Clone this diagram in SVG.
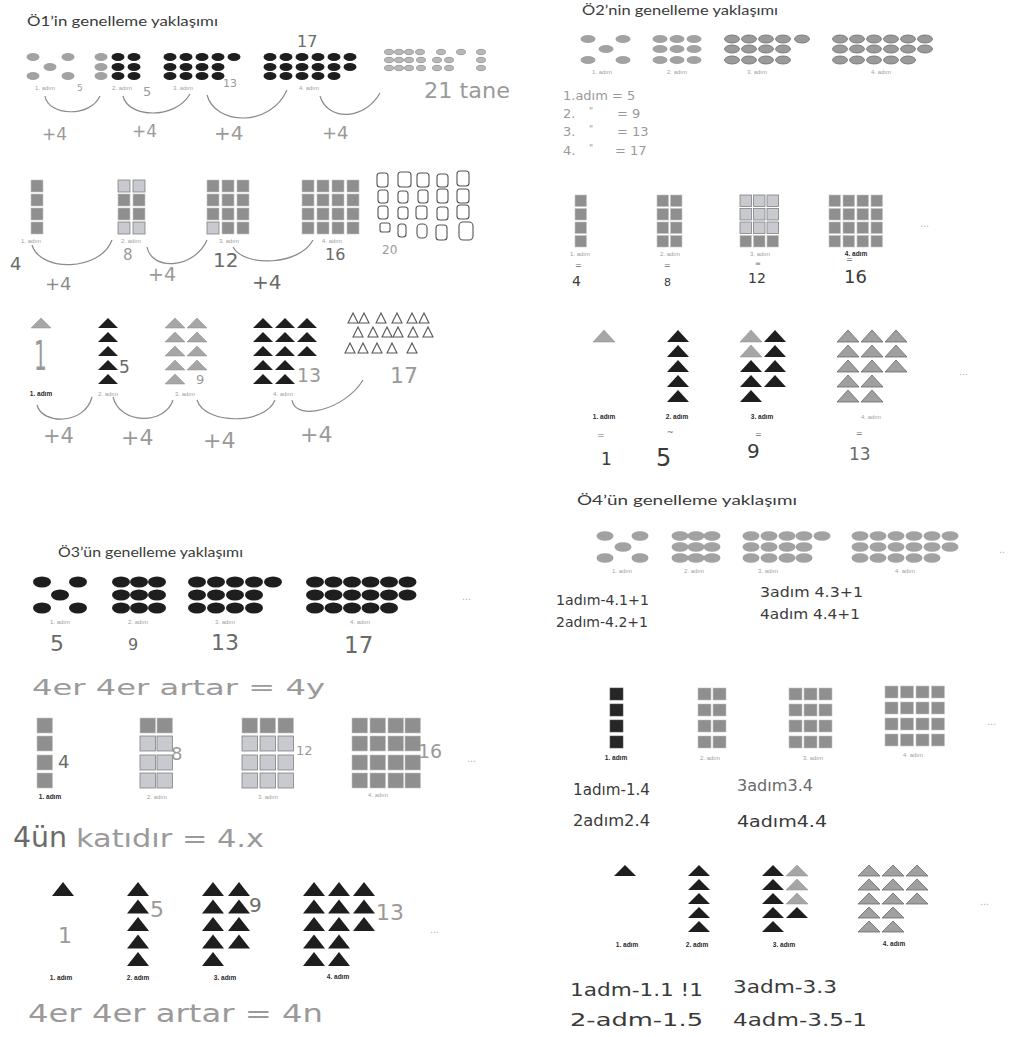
<svg xmlns="http://www.w3.org/2000/svg" xmlns:xlink="http://www.w3.org/1999/xlink" width="1011" height="1037" viewBox="0 0 1011 1037">
<style>
.title{font-family:"Lato","Open Sans",sans-serif;font-size:14px;fill:#3a3a3a}
.lbl{font-family:"Liberation Sans",Arial,sans-serif;font-size:6px;fill:#a0a0a0;text-anchor:middle}
.lblb{font-family:"Liberation Sans",Arial,sans-serif;font-size:6.5px;font-weight:bold;fill:#2a2a2a;text-anchor:middle}
.hw{font-family:"DejaVu Sans",sans-serif;fill:#9a9a9a}
.hwd{font-family:"DejaVu Sans",sans-serif;fill:#3a3a3a}
.hwm{font-family:"DejaVu Sans",sans-serif;fill:#6a6a6a}
.dots{font-family:"Liberation Sans",sans-serif;font-size:11px;fill:#b0b0b0}
.g{fill:#a2a2a2}
.go{fill:#9a9a9a;stroke:#6e6e6e;stroke-width:0.8}
.k{fill:#1e1e1e}
.sq{fill:#8f8f8f;stroke:#c4c4c4;stroke-width:0.6}
.sql{fill:#c8cad0;stroke:#808080;stroke-width:0.8}
.sqk{fill:#262626;stroke:#555;stroke-width:0.6}
.tg{fill:#a6a6a6;stroke:#8a8a8a;stroke-width:0.5}
.tgo{fill:#a0a0a0;stroke:#6a6a6a;stroke-width:0.8}
.arc{fill:none;stroke:#8a8a8a;stroke-width:1.2}
.ol{fill:none;stroke:#555;stroke-width:1.1}
.ole{fill:#b8b8b8;stroke:#888;stroke-width:0.7}
</style>
<defs>
<ellipse id="e1" cx="0" cy="0" rx="6.5" ry="4"/>
<ellipse id="e2" cx="0" cy="0" rx="7.5" ry="4"/>
<ellipse id="e4" cx="0" cy="0" rx="8.5" ry="4.8"/>
<ellipse id="e3" cx="0" cy="0" rx="9" ry="5.5"/>
<ellipse id="eh" cx="0" cy="0" rx="4.5" ry="2.7"/>
<rect id="s1" width="12" height="12"/>
<rect id="s2" width="11.5" height="11.5"/>
<rect id="s4" width="13" height="12"/>
<rect id="s3" width="15.5" height="15"/>
<polygon id="t1" points="0,10 10,0 20,10"/>
<polygon id="t2" points="0,12 11,0 22,12"/>
<polygon id="t4" points="0,11 11,0 22,11"/>
<polygon id="t3" points="0,14 11,0 22,14"/>
<polygon id="th" points="0,10 5,0 10,10"/>
</defs>
<rect width="1011" height="1037" fill="#ffffff"/>

<!-- ===== Ö1 ===== -->
<g id="o1-title"><text class="title" x="27" y="26" textLength="191" lengthAdjust="spacingAndGlyphs">Ö1’in genelleme yaklaşımı</text></g>

<g id="o1-row1">
<g class="g"><use href="#e1" x="33" y="57"/><use href="#e1" x="68" y="57"/><use href="#e1" x="50" y="67"/><use href="#e1" x="33" y="76"/><use href="#e1" x="68" y="76"/>
<use href="#e1" x="101" y="57"/><use href="#e1" x="101" y="67"/><use href="#e1" x="101" y="76"/></g>
<g class="k"><use href="#e1" x="118" y="57"/><use href="#e1" x="134" y="57"/><use href="#e1" x="118" y="67"/><use href="#e1" x="134" y="67"/><use href="#e1" x="118" y="76"/><use href="#e1" x="134" y="76"/>
<use href="#e1" x="170" y="57"/><use href="#e1" x="186" y="57"/><use href="#e1" x="202" y="57"/><use href="#e1" x="218" y="57"/><use href="#e1" x="234" y="57"/>
<use href="#e1" x="170" y="67"/><use href="#e1" x="186" y="67"/><use href="#e1" x="202" y="67"/><use href="#e1" x="218" y="67"/>
<use href="#e1" x="170" y="76"/><use href="#e1" x="186" y="76"/><use href="#e1" x="202" y="76"/><use href="#e1" x="218" y="76"/>
<use href="#e1" x="270" y="57"/><use href="#e1" x="286" y="57"/><use href="#e1" x="302" y="57"/><use href="#e1" x="318" y="57"/><use href="#e1" x="334" y="57"/><use href="#e1" x="350" y="57"/>
<use href="#e1" x="270" y="67"/><use href="#e1" x="286" y="67"/><use href="#e1" x="302" y="67"/><use href="#e1" x="318" y="67"/><use href="#e1" x="334" y="67"/><use href="#e1" x="350" y="67"/>
<use href="#e1" x="270" y="76"/><use href="#e1" x="286" y="76"/><use href="#e1" x="302" y="76"/><use href="#e1" x="318" y="76"/><use href="#e1" x="334" y="76"/></g>
<g class="ole"><use href="#eh" x="389" y="52"/><use href="#eh" x="399" y="52"/><use href="#eh" x="409" y="52"/><use href="#eh" x="420" y="52"/><use href="#eh" x="441" y="52"/><use href="#eh" x="461" y="52"/><use href="#eh" x="481" y="52"/>
<use href="#eh" x="389" y="60"/><use href="#eh" x="399" y="60"/><use href="#eh" x="409" y="60"/><use href="#eh" x="421" y="60"/><use href="#eh" x="437" y="60"/><use href="#eh" x="449" y="60"/><use href="#eh" x="481" y="60"/>
<use href="#eh" x="389" y="68"/><use href="#eh" x="399" y="68"/><use href="#eh" x="409" y="68"/><use href="#eh" x="421" y="68"/><use href="#eh" x="437" y="68"/><use href="#eh" x="449" y="68"/><use href="#eh" x="481" y="68"/></g>
<text class="lbl" x="45" y="90">1. adım</text><text class="lbl" x="122" y="90">2. adım</text><text class="lbl" x="183" y="90">3. adım</text><text class="lbl" x="309" y="90">4. adım</text>
<text class="hw" x="77" y="91" font-size="9">5</text>
<text class="hw" x="143" y="96" font-size="13">5</text>
<text class="hw" x="223" y="87" font-size="11">13</text>
<text class="hwm" x="297" y="47" font-size="16">17</text>
<text class="hw" x="424" y="98" font-size="22" textLength="86" lengthAdjust="spacingAndGlyphs">21 tane</text>
<text class="hw" x="42" y="140" font-size="17">+4</text>
<text class="hw" x="132" y="137" font-size="17">+4</text>
<text class="hw" x="214" y="140" font-size="20">+4</text>
<text class="hw" x="322" y="139" font-size="18">+4</text>
</g>

<g id="o1-row2">
<g class="sq"><use href="#s1" x="31" y="180"/><use href="#s1" x="31" y="194"/><use href="#s1" x="31" y="208"/><use href="#s1" x="31" y="222"/>
<use href="#s1" x="118" y="194"/><use href="#s1" x="133" y="194"/><use href="#s1" x="118" y="208"/><use href="#s1" x="133" y="208"/>
<use href="#s1" x="207" y="180"/><use href="#s1" x="222" y="180"/><use href="#s1" x="237" y="180"/><use href="#s1" x="207" y="194"/><use href="#s1" x="222" y="194"/><use href="#s1" x="237" y="194"/><use href="#s1" x="207" y="208"/><use href="#s1" x="222" y="208"/><use href="#s1" x="237" y="208"/><use href="#s1" x="222" y="222"/><use href="#s1" x="237" y="222"/>
<use href="#s1" x="302" y="180"/><use href="#s1" x="317" y="180"/><use href="#s1" x="332" y="180"/><use href="#s1" x="347" y="180"/>
<use href="#s1" x="302" y="194"/><use href="#s1" x="317" y="194"/><use href="#s1" x="332" y="194"/><use href="#s1" x="347" y="194"/>
<use href="#s1" x="302" y="208"/><use href="#s1" x="317" y="208"/><use href="#s1" x="332" y="208"/><use href="#s1" x="347" y="208"/>
<use href="#s1" x="302" y="222"/><use href="#s1" x="317" y="222"/><use href="#s1" x="332" y="222"/><use href="#s1" x="347" y="222"/></g>
<g class="sql"><use href="#s1" x="118" y="180"/><use href="#s1" x="133" y="180"/><use href="#s1" x="118" y="222"/><use href="#s1" x="133" y="222"/><use href="#s1" x="207" y="222"/></g>
<g class="ol"><rect x="377" y="173" width="11" height="14" rx="3"/><rect x="398" y="172" width="13" height="15" rx="3"/><rect x="417" y="173" width="12" height="14" rx="3"/><rect x="437" y="174" width="11" height="13" rx="3"/><rect x="457" y="171" width="12" height="15" rx="3"/>
<rect x="378" y="190" width="10" height="13" rx="3"/><rect x="398" y="191" width="10" height="12" rx="3"/><rect x="418" y="190" width="10" height="13" rx="3"/><rect x="437" y="189" width="11" height="14" rx="3"/><rect x="457" y="189" width="12" height="14" rx="3"/>
<rect x="378" y="206" width="10" height="13" rx="3"/><rect x="398" y="207" width="10" height="12" rx="3"/><rect x="416" y="206" width="11" height="13" rx="3"/><rect x="437" y="207" width="11" height="13" rx="3"/><rect x="457" y="205" width="12" height="14" rx="3"/>
<rect x="380" y="223" width="10" height="9" rx="2"/><rect x="398" y="224" width="8" height="13" rx="3"/><rect x="417" y="224" width="10" height="14" rx="4"/><rect x="436" y="225" width="11" height="15" rx="3"/><rect x="459" y="222" width="14" height="18" rx="4"/></g>
<text class="lbl" x="31" y="243">1. adım</text><text class="lbl" x="131" y="243">2. adım</text><text class="lbl" x="229" y="243">3. adım</text><text class="lbl" x="332" y="243">4. adım</text>
<text class="hwm" x="10" y="270" font-size="18">4</text>
<text class="hw" x="123" y="260" font-size="15">8</text>
<text class="hwm" x="213" y="267" font-size="20">12</text>
<text class="hwm" x="325" y="260" font-size="16">16</text>
<text class="hw" x="382" y="254" font-size="12">20</text>
<text class="hwd" x="45" y="290" font-size="18" fill-opacity="0.6">+4</text>
<text class="hw" x="148" y="281" font-size="19">+4</text>
<text class="hwm" x="252" y="289" font-size="20">+4</text>
</g>

<g id="o1-row3">
<g class="tg"><use href="#t1" x="31" y="318"/>
<use href="#t1" x="165" y="318"/><use href="#t1" x="165" y="332"/><use href="#t1" x="165" y="346"/><use href="#t1" x="165" y="360"/><use href="#t1" x="165" y="374"/>
<use href="#t1" x="187" y="318"/><use href="#t1" x="187" y="332"/><use href="#t1" x="187" y="346"/><use href="#t1" x="187" y="360"/></g>
<g class="k"><use href="#t1" x="98" y="318"/><use href="#t1" x="98" y="332"/><use href="#t1" x="98" y="346"/><use href="#t1" x="98" y="360"/><use href="#t1" x="98" y="374"/>
<use href="#t1" x="253" y="318"/><use href="#t1" x="275" y="318"/><use href="#t1" x="297" y="318"/>
<use href="#t1" x="253" y="332"/><use href="#t1" x="275" y="332"/><use href="#t1" x="297" y="332"/>
<use href="#t1" x="253" y="346"/><use href="#t1" x="275" y="346"/><use href="#t1" x="297" y="346"/>
<use href="#t1" x="253" y="360"/><use href="#t1" x="275" y="360"/>
<use href="#t1" x="253" y="374"/><use href="#t1" x="275" y="374"/></g>
<g class="ol"><use href="#th" x="348" y="313"/><use href="#th" x="359" y="313"/><use href="#th" x="376" y="313"/><use href="#th" x="392" y="313"/><use href="#th" x="407" y="313"/><use href="#th" x="419" y="313"/>
<use href="#th" x="353" y="327"/><use href="#th" x="368" y="327"/><use href="#th" x="382" y="327"/><use href="#th" x="393" y="327"/><use href="#th" x="408" y="327"/><use href="#th" x="423" y="327"/>
<use href="#th" x="345" y="343"/><use href="#th" x="358" y="343"/><use href="#th" x="372" y="343"/><use href="#th" x="387" y="343"/><use href="#th" x="407" y="343"/></g>
<text class="lblb" x="41" y="396">1. adım</text><text class="lbl" x="108" y="396">2. adım</text><text class="lbl" x="185" y="396">3. adım</text><text class="lbl" x="283" y="396">4. adım</text>
<text class="hw" x="34" y="370" font-size="40" transform="translate(34 0) scale(0.5 1) translate(-34 0)">1</text>
<text class="hwm" x="119" y="373" font-size="17">5</text>
<text class="hw" x="196" y="384" font-size="13">9</text>
<text class="hw" x="297" y="382" font-size="19">13</text>
<text class="hw" x="390" y="383" font-size="22">17</text>
<text class="hw" x="43" y="443" font-size="21">+4</text>
<text class="hw" x="121" y="445" font-size="22">+4</text>
<text class="hw" x="203" y="448" font-size="22">+4</text>
<text class="hw" x="300" y="442" font-size="22">+4</text>
</g>

<!-- ===== Ö2 ===== -->
<g id="o2-title"><text class="title" x="582" y="15" textLength="196" lengthAdjust="spacingAndGlyphs">Ö2’nin genelleme yaklaşımı</text></g>

<g id="o2-row1">
<g class="g"><use href="#e2" x="588" y="39"/><use href="#e2" x="623" y="39"/><use href="#e2" x="606" y="49"/><use href="#e2" x="588" y="60"/><use href="#e2" x="623" y="60"/>
<use href="#e2" x="660" y="39"/><use href="#e2" x="677" y="39"/><use href="#e2" x="694" y="39"/><use href="#e2" x="660" y="49"/><use href="#e2" x="677" y="49"/><use href="#e2" x="694" y="49"/><use href="#e2" x="660" y="60"/><use href="#e2" x="677" y="60"/><use href="#e2" x="694" y="60"/></g>
<g class="go"><use href="#e2" x="732" y="39"/><use href="#e2" x="749" y="39"/><use href="#e2" x="766" y="39"/><use href="#e2" x="783" y="39"/><use href="#e2" x="802" y="39"/>
<use href="#e2" x="732" y="49"/><use href="#e2" x="749" y="49"/><use href="#e2" x="766" y="49"/><use href="#e2" x="783" y="49"/>
<use href="#e2" x="732" y="60"/><use href="#e2" x="749" y="60"/><use href="#e2" x="766" y="60"/><use href="#e2" x="783" y="60"/>
<use href="#e2" x="840" y="39"/><use href="#e2" x="857" y="39"/><use href="#e2" x="874" y="39"/><use href="#e2" x="891" y="39"/><use href="#e2" x="908" y="39"/><use href="#e2" x="925" y="39"/>
<use href="#e2" x="840" y="49"/><use href="#e2" x="857" y="49"/><use href="#e2" x="874" y="49"/><use href="#e2" x="891" y="49"/><use href="#e2" x="908" y="49"/><use href="#e2" x="925" y="49"/>
<use href="#e2" x="840" y="60"/><use href="#e2" x="857" y="60"/><use href="#e2" x="874" y="60"/><use href="#e2" x="891" y="60"/><use href="#e2" x="908" y="60"/></g>
<text class="lbl" x="602" y="74">1. adım</text><text class="lbl" x="677" y="74">2. adım</text><text class="lbl" x="757" y="74">3. adım</text><text class="lbl" x="881" y="74">4. adım</text>
<g class="hw" font-size="13"><text x="563" y="100">1.adım = 5</text>
<text x="563" y="118">2.</text><text x="589" y="114" font-size="9">"</text><text x="617" y="118">= 9</text>
<text x="563" y="136">3.</text><text x="589" y="132" font-size="9">"</text><text x="617" y="136">= 13</text>
<text x="563" y="155">4.</text><text x="589" y="151" font-size="9">"</text><text x="615" y="155">= 17</text></g>
</g>

<g id="o2-row2">
<g class="sq"><use href="#s2" x="575" y="195"/><use href="#s2" x="575" y="208.5"/><use href="#s2" x="575" y="222"/><use href="#s2" x="575" y="235.5"/>
<use href="#s2" x="657" y="195"/><use href="#s2" x="670.5" y="195"/><use href="#s2" x="657" y="208.5"/><use href="#s2" x="670.5" y="208.5"/><use href="#s2" x="657" y="222"/><use href="#s2" x="670.5" y="222"/><use href="#s2" x="657" y="235.5"/><use href="#s2" x="670.5" y="235.5"/>
<use href="#s2" x="740" y="235.5"/><use href="#s2" x="753.5" y="235.5"/><use href="#s2" x="767" y="235.5"/>
<use href="#s2" x="829" y="195"/><use href="#s2" x="843" y="195"/><use href="#s2" x="857" y="195"/><use href="#s2" x="871" y="195"/>
<use href="#s2" x="829" y="208.5"/><use href="#s2" x="843" y="208.5"/><use href="#s2" x="857" y="208.5"/><use href="#s2" x="871" y="208.5"/>
<use href="#s2" x="829" y="222"/><use href="#s2" x="843" y="222"/><use href="#s2" x="857" y="222"/><use href="#s2" x="871" y="222"/>
<use href="#s2" x="829" y="235.5"/><use href="#s2" x="843" y="235.5"/><use href="#s2" x="857" y="235.5"/><use href="#s2" x="871" y="235.5"/></g>
<g class="sql"><use href="#s2" x="740" y="195"/><use href="#s2" x="753.5" y="195"/><use href="#s2" x="767" y="195"/><use href="#s2" x="740" y="208.5"/><use href="#s2" x="753.5" y="208.5"/><use href="#s2" x="767" y="208.5"/><use href="#s2" x="740" y="222"/><use href="#s2" x="753.5" y="222"/><use href="#s2" x="767" y="222"/></g>
<text class="lbl" x="580" y="256">1. adım</text><text class="lbl" x="670" y="256">2. adım</text><text class="lbl" x="760" y="256">3. adım</text><text class="lblb" x="856" y="256">4. adım</text>
<text class="dots" x="920" y="227">...</text>
<text class="hwm" x="575" y="268" font-size="8">=</text><text class="hwd" x="572" y="286" font-size="14">4</text>
<text class="hwm" x="664" y="268" font-size="8">=</text><text class="hwd" x="664" y="286" font-size="11">8</text>
<text class="hwm" x="755" y="266" font-size="7">=</text><text class="hwd" x="748" y="283" font-size="14">12</text>
<text class="hwm" x="846" y="262" font-size="8">=</text><text class="hwd" x="844" y="283" font-size="18">16</text>
</g>

<g id="o2-row3">
<g class="tg"><use href="#t2" x="593" y="330"/><use href="#t2" x="740" y="330"/><use href="#t2" x="740" y="345"/></g>
<g class="k"><use href="#t2" x="667" y="330"/><use href="#t2" x="667" y="345"/><use href="#t2" x="667" y="360"/><use href="#t2" x="667" y="375"/><use href="#t2" x="667" y="390"/>
<use href="#t2" x="740" y="360"/><use href="#t2" x="740" y="375"/><use href="#t2" x="740" y="390"/>
<use href="#t2" x="764" y="330"/><use href="#t2" x="764" y="345"/><use href="#t2" x="764" y="360"/><use href="#t2" x="764" y="375"/></g>
<g class="tgo"><use href="#t2" x="837" y="330"/><use href="#t2" x="861" y="330"/><use href="#t2" x="885" y="330"/>
<use href="#t2" x="837" y="345"/><use href="#t2" x="861" y="345"/><use href="#t2" x="885" y="345"/>
<use href="#t2" x="837" y="360"/><use href="#t2" x="861" y="360"/><use href="#t2" x="885" y="360"/>
<use href="#t2" x="837" y="375"/><use href="#t2" x="861" y="375"/>
<use href="#t2" x="837" y="390"/><use href="#t2" x="861" y="390"/></g>
<text class="lblb" x="604" y="419">1. adım</text><text class="lblb" x="677" y="419">2. adım</text><text class="lblb" x="762" y="419">3. adım</text><text class="lbl" x="871" y="419" fill="#777">4. adım</text>
<text class="dots" x="959" y="375">...</text>
<text class="hwm" x="597" y="438" font-size="9">=</text><text class="hwd" x="601" y="465" font-size="17">1</text>
<text class="hwm" x="667" y="435" font-size="8">~</text><text class="hwd" x="656" y="466" font-size="24">5</text>
<text class="hwm" x="755" y="437" font-size="8">=</text><text class="hwd" x="747" y="458" font-size="20">9</text>
<text class="hwm" x="856" y="436" font-size="8">=</text><text class="hwm" x="849" y="460" font-size="17">13</text>
</g>

<!-- ===== Ö4 ===== -->
<g id="o4-title"><text class="title" x="577" y="505" textLength="220" lengthAdjust="spacingAndGlyphs">Ö4’ün genelleme yaklaşımı</text></g>

<g id="o4-row1">
<g class="g"><use href="#e4" x="605" y="536"/><use href="#e4" x="640" y="536"/><use href="#e4" x="623" y="547"/><use href="#e4" x="605" y="558"/><use href="#e4" x="640" y="558"/>
<use href="#e4" x="680" y="536"/><use href="#e4" x="696" y="536"/><use href="#e4" x="712" y="536"/><use href="#e4" x="680" y="547"/><use href="#e4" x="696" y="547"/><use href="#e4" x="712" y="547"/><use href="#e4" x="680" y="558"/><use href="#e4" x="696" y="558"/><use href="#e4" x="712" y="558"/>
<use href="#e4" x="751" y="536"/><use href="#e4" x="769" y="536"/><use href="#e4" x="787" y="536"/><use href="#e4" x="804" y="536"/><use href="#e4" x="822" y="536"/>
<use href="#e4" x="751" y="547"/><use href="#e4" x="769" y="547"/><use href="#e4" x="787" y="547"/><use href="#e4" x="804" y="547"/>
<use href="#e4" x="751" y="558"/><use href="#e4" x="769" y="558"/><use href="#e4" x="787" y="558"/><use href="#e4" x="804" y="558"/>
<use href="#e4" x="860" y="536"/><use href="#e4" x="878" y="536"/><use href="#e4" x="896" y="536"/><use href="#e4" x="914" y="536"/><use href="#e4" x="932" y="536"/><use href="#e4" x="950" y="536"/>
<use href="#e4" x="860" y="547"/><use href="#e4" x="878" y="547"/><use href="#e4" x="896" y="547"/><use href="#e4" x="914" y="547"/><use href="#e4" x="932" y="547"/><use href="#e4" x="950" y="547"/>
<use href="#e4" x="860" y="558"/><use href="#e4" x="878" y="558"/><use href="#e4" x="896" y="558"/><use href="#e4" x="914" y="558"/><use href="#e4" x="932" y="558"/></g>
<text class="lbl" x="622" y="573">1. adım</text><text class="lbl" x="694" y="573" fill="#777">2. adım</text><text class="lbl" x="768" y="573" fill="#888">3. adım</text><text class="lbl" x="905" y="573" fill="#888">4. adım</text>
<text class="dots" x="999" y="553">..</text>
<g class="hwd" font-size="14"><text x="556" y="605" textLength="93" lengthAdjust="spacingAndGlyphs">1adım-4.1+1</text>
<text x="556" y="627" textLength="92" lengthAdjust="spacingAndGlyphs">2adım-4.2+1</text>
<text x="760" y="597" textLength="103" lengthAdjust="spacingAndGlyphs">3adım 4.3+1</text>
<text x="760" y="619" textLength="100" lengthAdjust="spacingAndGlyphs">4adım 4.4+1</text></g>
</g>

<g id="o4-row2">
<g class="sqk"><use href="#s4" x="610" y="688"/><use href="#s4" x="610" y="704"/><use href="#s4" x="610" y="720"/><use href="#s4" x="610" y="736"/></g>
<g class="sq"><use href="#s4" x="698" y="688"/><use href="#s4" x="713" y="688"/><use href="#s4" x="698" y="704"/><use href="#s4" x="713" y="704"/><use href="#s4" x="698" y="720"/><use href="#s4" x="713" y="720"/><use href="#s4" x="698" y="736"/><use href="#s4" x="713" y="736"/>
<use href="#s4" x="789" y="688"/><use href="#s4" x="804" y="688"/><use href="#s4" x="819" y="688"/><use href="#s4" x="789" y="704"/><use href="#s4" x="804" y="704"/><use href="#s4" x="819" y="704"/><use href="#s4" x="789" y="720"/><use href="#s4" x="804" y="720"/><use href="#s4" x="819" y="720"/><use href="#s4" x="789" y="736"/><use href="#s4" x="804" y="736"/><use href="#s4" x="819" y="736"/>
<use href="#s4" x="885" y="686"/><use href="#s4" x="900.5" y="686"/><use href="#s4" x="916" y="686"/><use href="#s4" x="931.5" y="686"/>
<use href="#s4" x="885" y="702"/><use href="#s4" x="900.5" y="702"/><use href="#s4" x="916" y="702"/><use href="#s4" x="931.5" y="702"/>
<use href="#s4" x="885" y="718"/><use href="#s4" x="900.5" y="718"/><use href="#s4" x="916" y="718"/><use href="#s4" x="931.5" y="718"/>
<use href="#s4" x="885" y="734"/><use href="#s4" x="900.5" y="734"/><use href="#s4" x="916" y="734"/><use href="#s4" x="931.5" y="734"/></g>
<text class="lblb" x="616" y="760">1. adım</text><text class="lbl" x="710" y="760">2. adım</text><text class="lbl" x="813" y="760">3. adım</text><text class="lbl" x="913" y="757">4. adım</text>
<text class="dots" x="987" y="725">...</text>
<g font-size="16"><text class="hwd" x="573" y="795" textLength="77" lengthAdjust="spacingAndGlyphs">1adım-1.4</text>
<text class="hwd" x="573" y="826" textLength="77" lengthAdjust="spacingAndGlyphs">2adım2.4</text>
<text class="hwm" x="737" y="791" textLength="76" lengthAdjust="spacingAndGlyphs">3adım3.4</text>
<text class="hwd" x="737" y="827" textLength="90" lengthAdjust="spacingAndGlyphs">4adım4.4</text></g>
</g>

<g id="o4-row3">
<g class="k"><use href="#t4" x="614" y="865"/>
<use href="#t4" x="688" y="865"/><use href="#t4" x="688" y="879"/><use href="#t4" x="688" y="893"/><use href="#t4" x="688" y="907"/><use href="#t4" x="688" y="921"/>
<use href="#t4" x="762" y="865"/><use href="#t4" x="762" y="879"/><use href="#t4" x="762" y="893"/><use href="#t4" x="762" y="907"/><use href="#t4" x="762" y="921"/>
<use href="#t4" x="786" y="907"/></g>
<g class="tg"><use href="#t4" x="786" y="865"/><use href="#t4" x="786" y="879"/><use href="#t4" x="786" y="893"/></g>
<g class="tgo"><use href="#t4" x="858" y="865"/><use href="#t4" x="882" y="865"/><use href="#t4" x="906" y="865"/>
<use href="#t4" x="858" y="879"/><use href="#t4" x="882" y="879"/><use href="#t4" x="906" y="879"/>
<use href="#t4" x="858" y="893"/><use href="#t4" x="882" y="893"/><use href="#t4" x="906" y="893"/>
<use href="#t4" x="858" y="907"/><use href="#t4" x="882" y="907"/>
<use href="#t4" x="858" y="921"/><use href="#t4" x="882" y="921"/></g>
<text class="lblb" x="627" y="947">1. adım</text><text class="lblb" x="697" y="947">2. adım</text><text class="lblb" x="784" y="947">3. adım</text><text class="lblb" x="894" y="946">4. adım</text>
<text class="dots" x="980" y="905">...</text>
<g class="hwd" font-size="17"><text x="570" y="996" textLength="133" lengthAdjust="spacingAndGlyphs">1adm-1.1 !1</text>
<text x="570" y="1026" textLength="133" lengthAdjust="spacingAndGlyphs">2-adm-1.5</text>
<text x="733" y="993" textLength="104" lengthAdjust="spacingAndGlyphs">3adm-3.3</text>
<text x="733" y="1026" textLength="134" lengthAdjust="spacingAndGlyphs">4adm-3.5-1</text></g>
</g>

<!-- ===== Ö3 ===== -->
<g id="o3-title"><text class="title" x="58" y="557" font-size="13" textLength="185" lengthAdjust="spacingAndGlyphs">Ö3’ün genelleme yaklaşımı</text></g>

<g id="o3-row1">
<g class="k"><use href="#e3" x="42" y="582"/><use href="#e3" x="78" y="582"/><use href="#e3" x="60" y="595"/><use href="#e3" x="42" y="608"/><use href="#e3" x="78" y="608"/>
<use href="#e3" x="121" y="582"/><use href="#e3" x="139" y="582"/><use href="#e3" x="157" y="582"/><use href="#e3" x="121" y="595"/><use href="#e3" x="139" y="595"/><use href="#e3" x="157" y="595"/><use href="#e3" x="121" y="608"/><use href="#e3" x="139" y="608"/><use href="#e3" x="157" y="608"/>
<use href="#e3" x="197" y="582"/><use href="#e3" x="216" y="582"/><use href="#e3" x="235" y="582"/><use href="#e3" x="254" y="582"/><use href="#e3" x="273" y="582"/>
<use href="#e3" x="197" y="595"/><use href="#e3" x="216" y="595"/><use href="#e3" x="235" y="595"/><use href="#e3" x="254" y="595"/>
<use href="#e3" x="197" y="608"/><use href="#e3" x="216" y="608"/><use href="#e3" x="235" y="608"/><use href="#e3" x="254" y="608"/>
<use href="#e3" x="315" y="582"/><use href="#e3" x="333.5" y="582"/><use href="#e3" x="352" y="582"/><use href="#e3" x="370.5" y="582"/><use href="#e3" x="389" y="582"/><use href="#e3" x="407.5" y="582"/>
<use href="#e3" x="315" y="595"/><use href="#e3" x="333.5" y="595"/><use href="#e3" x="352" y="595"/><use href="#e3" x="370.5" y="595"/><use href="#e3" x="389" y="595"/><use href="#e3" x="407.5" y="595"/>
<use href="#e3" x="315" y="608"/><use href="#e3" x="333.5" y="608"/><use href="#e3" x="352" y="608"/><use href="#e3" x="370.5" y="608"/><use href="#e3" x="389" y="608"/></g>
<text class="lbl" x="60" y="624" fill="#777">1. adım</text><text class="lbl" x="138" y="624" fill="#777">2. adım</text><text class="lbl" x="225" y="624" fill="#777">3. adım</text><text class="lbl" x="360" y="624" fill="#777">4. adım</text>
<text class="dots" x="462" y="600">...</text>
<text class="hwm" x="50" y="651" font-size="22">5</text>
<text class="hwm" x="128" y="650" font-size="16">9</text>
<text class="hwm" x="211" y="650" font-size="22">13</text>
<text class="hwm" x="344" y="653" font-size="23">17</text>
<text class="hw" x="32" y="695" font-size="22" textLength="293" lengthAdjust="spacingAndGlyphs">4er 4er artar = 4y</text>
</g>

<g id="o3-row2">
<g class="sq"><use href="#s3" x="37" y="718"/><use href="#s3" x="37" y="736"/><use href="#s3" x="37" y="755"/><use href="#s3" x="37" y="773"/>
<use href="#s3" x="140" y="718"/><use href="#s3" x="157" y="718"/>
<use href="#s3" x="242" y="718"/><use href="#s3" x="260" y="718"/><use href="#s3" x="278" y="718"/>
<use href="#s3" x="352" y="718"/><use href="#s3" x="370" y="718"/><use href="#s3" x="388" y="718"/><use href="#s3" x="405" y="718"/>
<use href="#s3" x="352" y="736"/><use href="#s3" x="370" y="736"/><use href="#s3" x="388" y="736"/><use href="#s3" x="405" y="736"/>
<use href="#s3" x="352" y="755"/><use href="#s3" x="370" y="755"/><use href="#s3" x="388" y="755"/><use href="#s3" x="405" y="755"/>
<use href="#s3" x="352" y="773"/><use href="#s3" x="370" y="773"/><use href="#s3" x="388" y="773"/><use href="#s3" x="405" y="773"/></g>
<g class="sql"><use href="#s3" x="140" y="736"/><use href="#s3" x="157" y="736"/><use href="#s3" x="140" y="755"/><use href="#s3" x="157" y="755"/><use href="#s3" x="140" y="773"/><use href="#s3" x="157" y="773"/>
<use href="#s3" x="242" y="736"/><use href="#s3" x="260" y="736"/><use href="#s3" x="278" y="736"/><use href="#s3" x="242" y="755"/><use href="#s3" x="260" y="755"/><use href="#s3" x="278" y="755"/><use href="#s3" x="242" y="773"/><use href="#s3" x="260" y="773"/><use href="#s3" x="278" y="773"/></g>
<text class="lblb" x="50" y="799">1. adım</text><text class="lbl" x="157" y="799" fill="#888">2. adım</text><text class="lbl" x="268" y="799" fill="#888">3. adım</text><text class="lbl" x="378" y="797" fill="#888">4. adım</text>
<text class="dots" x="467" y="762">...</text>
<text class="hwm" x="58" y="768" font-size="18">4</text>
<text class="hw" x="171" y="760" font-size="18">8</text>
<text class="hw" x="296" y="755" font-size="13">12</text>
<text class="hw" x="418" y="758" font-size="19">16</text>
<text class="hwm" x="13" y="847" font-size="28" textLength="54" lengthAdjust="spacingAndGlyphs">4ün</text>
<text class="hw" x="76" y="847" font-size="24" textLength="188" lengthAdjust="spacingAndGlyphs">katıdır = 4.x</text>
</g>

<g id="o3-row3">
<g class="k"><use href="#t3" x="52" y="882"/>
<use href="#t3" x="127" y="882"/><use href="#t3" x="127" y="899.5"/><use href="#t3" x="127" y="917"/><use href="#t3" x="127" y="934.5"/><use href="#t3" x="127" y="952"/>
<use href="#t3" x="202" y="882"/><use href="#t3" x="202" y="899.5"/><use href="#t3" x="202" y="917"/><use href="#t3" x="202" y="934.5"/><use href="#t3" x="202" y="952"/>
<use href="#t3" x="228" y="882"/><use href="#t3" x="228" y="899.5"/><use href="#t3" x="228" y="917"/><use href="#t3" x="228" y="934.5"/>
<use href="#t3" x="303" y="882"/><use href="#t3" x="328" y="882"/><use href="#t3" x="353" y="882"/>
<use href="#t3" x="303" y="899.5"/><use href="#t3" x="328" y="899.5"/><use href="#t3" x="353" y="899.5"/>
<use href="#t3" x="303" y="917"/><use href="#t3" x="328" y="917"/><use href="#t3" x="353" y="917"/>
<use href="#t3" x="303" y="934.5"/><use href="#t3" x="328" y="934.5"/>
<use href="#t3" x="303" y="952"/><use href="#t3" x="328" y="952"/></g>
<text class="lblb" x="61" y="980">1. adım</text><text class="lblb" x="138" y="980">2. adım</text><text class="lblb" x="225" y="980">3. adım</text><text class="lblb" x="338" y="979">4. adım</text>
<text class="dots" x="430" y="933">...</text>
<text class="hw" x="58" y="943" font-size="22">1</text>
<text class="hw" x="150" y="917" font-size="22">5</text>
<text class="hwm" x="249" y="912" font-size="20">9</text>
<text class="hw" x="376" y="920" font-size="22">13</text>
<text class="hw" x="28" y="1022" font-size="24" textLength="295" lengthAdjust="spacingAndGlyphs">4er 4er artar = 4n</text>
</g>

<g id="connectors">
<path class="arc" d="M45,96 C48,116 90,118 100,96"/>
<path class="arc" d="M123,96 C128,118 175,120 190,94"/>
<path class="arc" d="M207,95 C215,125 270,128 287,90"/>
<path class="arc" d="M320,96 C328,122 365,120 380,93"/>
<path class="arc" d="M32,245 C40,272 100,272 112,240"/>
<path class="arc" d="M147,247 C152,272 195,268 207,240"/>
<path class="arc" d="M233,247 C245,268 300,265 313,240"/>
<path class="arc" d="M37,405 C42,425 85,425 92,397"/>
<path class="arc" d="M113,397 C120,425 165,425 173,400"/>
<path class="arc" d="M197,400 C205,425 265,425 275,400"/>
<path class="arc" d="M292,400 C295,422 345,410 363,380"/>
</g>
</svg>
